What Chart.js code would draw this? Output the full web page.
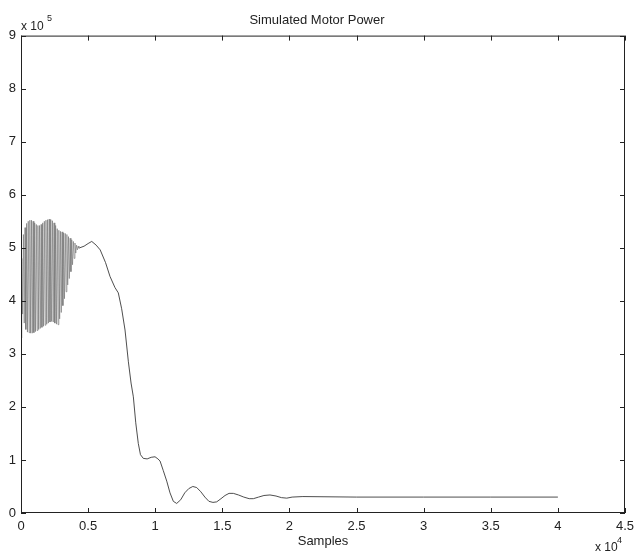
<!DOCTYPE html>
<html>
<head>
<meta charset="utf-8">
<title>Simulated Motor Power</title>
<script src="https://cdn.jsdelivr.net/npm/chart.js@4/dist/chart.umd.min.js"></script>
<style>
    html, body { margin: 0; padding: 0; background: #fff; }
</style>
</head>
<body>
<canvas id="motor-power-chart" width="634" height="552"></canvas>
<script>
// start-up burst, power in units of 10^5
var burstSamples = [
    0, 60, 120, 180, 240, 300, 360, 420, 480, 540,
    600, 660, 720, 780, 840, 900, 960, 1020, 1080, 1140,
    1200, 1260, 1320, 1380, 1440, 1500, 1560, 1620, 1680, 1740,
    1800, 1860, 1920, 1980, 2040, 2100, 2160, 2220, 2280, 2340,
    2400, 2460, 2520, 2580, 2640, 2700, 2760, 2820, 2880, 2940,
    3000, 3060, 3120, 3180, 3240, 3300, 3360, 3420, 3480, 3540,
    3600, 3660, 3720, 3780, 3840, 3900, 3960, 4020, 4080, 4140,
    4200, 4260, 4320, 4380
];
var burstPower = [
    3.30, 4.80, 3.75, 5.25, 3.58, 5.38, 3.46, 5.46, 3.41, 5.50,
    3.40, 5.52, 3.39, 5.52, 3.39, 5.50, 3.40, 5.47, 3.42, 5.44,
    3.44, 5.42, 3.46, 5.42, 3.48, 5.44, 3.50, 5.47, 3.52, 5.50,
    3.54, 5.52, 3.56, 5.53, 3.58, 5.54, 3.60, 5.53, 3.61, 5.51,
    3.60, 5.47, 3.58, 5.42, 3.56, 5.36, 3.55, 5.33, 3.66, 5.31,
    3.78, 5.30, 3.91, 5.28, 4.04, 5.27, 4.17, 5.25, 4.30, 5.21,
    4.42, 5.18, 4.55, 5.15, 4.68, 5.12, 4.80, 5.09, 4.90, 5.05,
    4.96, 5.03, 4.99, 5.00
];

// settling after the burst
var tailSamples = [
    4700, 5000, 5270, 5600, 5900, 6300, 6630, 7000, 7250, 7500,
    7750, 8000, 8200, 8370, 8550, 8740, 8900, 9110, 9400, 9700,
    9985, 10200, 10360, 10600, 10860, 11100, 11350, 11600, 11900, 12200,
    12500, 12800, 13090, 13400, 13700, 14000, 14300, 14580, 14900, 15200,
    15500, 15820, 16200, 16600, 17000, 17310, 17700, 18100, 18550, 19000,
    19400, 19800, 20200, 21000, 25000, 30000, 35000, 40000
];
var tailPower = [
    5.03, 5.08, 5.12, 5.05, 4.96, 4.72, 4.46, 4.25, 4.15, 3.85,
    3.45, 2.85, 2.45, 2.19, 1.70, 1.31, 1.10, 1.03, 1.02, 1.05,
    1.06, 1.02, 0.98, 0.80, 0.60, 0.38, 0.22, 0.18, 0.25, 0.38,
    0.46, 0.50, 0.48, 0.40, 0.30, 0.22, 0.20, 0.21, 0.27, 0.33,
    0.37, 0.37, 0.34, 0.30, 0.27, 0.27, 0.30, 0.33, 0.34, 0.32,
    0.29, 0.28, 0.30, 0.31, 0.30, 0.30, 0.30, 0.30
];

var xTickLabels = ["0", "0.5", "1", "1.5", "2", "2.5", "3", "3.5", "4", "4.5"];
var yTickLabels = ["0", "1", "2", "3", "4", "5", "6", "7", "8", "9"];

var FONT = "'Liberation Sans', Arial, Helvetica, sans-serif";
var INK = "#222";

function toPoints(xs, ys){
    var pts = [];
    for (var i = 0; i < xs.length; i++){
        pts.push({x: xs[i], y: ys[i]});
    }
    return pts;
}

var powerPoints = toPoints(burstSamples, burstPower).concat(toPoints(tailSamples, tailPower));
var burstEnd = burstSamples[burstSamples.length - 1];

// box round the axes, inward tick marks and the axis exponents
var frame = {
    id: "frame",
    afterDraw: function(chart){
        var ctx = chart.ctx;
        var area = chart.chartArea;
        var xs = chart.scales.x;
        var ys = chart.scales.y;
        var len = 5;
        ctx.save();
        ctx.strokeStyle = INK;
        ctx.lineWidth = 1;
        ctx.strokeRect(area.left + 0.5, area.top + 0.5, area.right - area.left - 1, area.bottom - area.top - 1);
        ctx.beginPath();
        xs.ticks.forEach(function(t){
            var px = Math.round(xs.getPixelForValue(t.value)) + 0.5;
            ctx.moveTo(px, area.bottom);
            ctx.lineTo(px, area.bottom - len);
            ctx.moveTo(px, area.top);
            ctx.lineTo(px, area.top + len);
        });
        ys.ticks.forEach(function(t){
            var py = Math.round(ys.getPixelForValue(t.value)) + 0.5;
            ctx.moveTo(area.left, py);
            ctx.lineTo(area.left + len, py);
            ctx.moveTo(area.right, py);
            ctx.lineTo(area.right - len, py);
        });
        ctx.stroke();

        ctx.fillStyle = INK;
        ctx.textBaseline = "alphabetic";
        ctx.textAlign = "left";
        ctx.font = "12px " + FONT;
        ctx.fillText("x 10", area.left, area.top - 6);
        ctx.fillText("x 10", area.right - 30, 551);
        ctx.font = "9px " + FONT;
        ctx.fillText("5", area.left + 26, area.top - 15);
        ctx.fillText("4", area.right - 8, 543);
        ctx.restore();
    }
};

var ctx = document.getElementById("motor-power-chart");
var chart = new Chart(ctx, {
    type: "scatter",
    data: {
        datasets: [{
            data: powerPoints,
            showLine: true,
            borderColor: "#3a3a3a",
            borderWidth: 0.9,
            pointRadius: 0,
            tension: 0,
            segment: {
                // the fast oscillation prints lighter, like a hatch
                borderColor: function(c){
                    return c.p1.parsed.x <= burstEnd ? "#6e6e6e" : undefined;
                },
                borderWidth: function(c){
                    return c.p1.parsed.x <= burstEnd ? 0.6 : undefined;
                }
            }
        }]
    },
    options: {
        responsive: false,
        animation: false,
        events: [],
        layout: {
            padding: {left: 0, right: 0, top: 0, bottom: 0}
        },
        plugins: {
            legend: {display: false},
            tooltip: {enabled: false},
            title: {
                display: true,
                text: "Simulated Motor Power",
                color: INK,
                font: {family: FONT, size: 13, weight: "normal"},
                padding: {top: 13, bottom: 7}
            }
        },
        scales: {
            x: {
                type: "linear",
                min: 0,
                max: 45000,
                grid: {display: false, drawTicks: false},
                border: {display: false},
                ticks: {
                    stepSize: 5000,
                    color: INK,
                    padding: 6,
                    maxRotation: 0,
                    font: {family: FONT, size: 13},
                    callback: function(value, index){
                        return xTickLabels[index];
                    }
                },
                title: {
                    display: true,
                    text: "Samples",
                    color: INK,
                    font: {family: FONT, size: 13},
                    padding: {top: 0, bottom: 3}
                },
                afterFit: function(scale){
                    scale.height = 39;
                    scale.paddingLeft = 0;
                    scale.paddingRight = 9;
                }
            },
            y: {
                type: "linear",
                min: 0,
                max: 9,
                grid: {display: false, drawTicks: false},
                border: {display: false},
                ticks: {
                    stepSize: 1,
                    color: INK,
                    padding: 5,
                    font: {family: FONT, size: 13},
                    callback: function(value, index){
                        return yTickLabels[index];
                    }
                },
                afterFit: function(scale){
                    scale.width = 21;
                }
            }
        }
    },
    plugins: [frame]
});
</script>
</body>
</html>
